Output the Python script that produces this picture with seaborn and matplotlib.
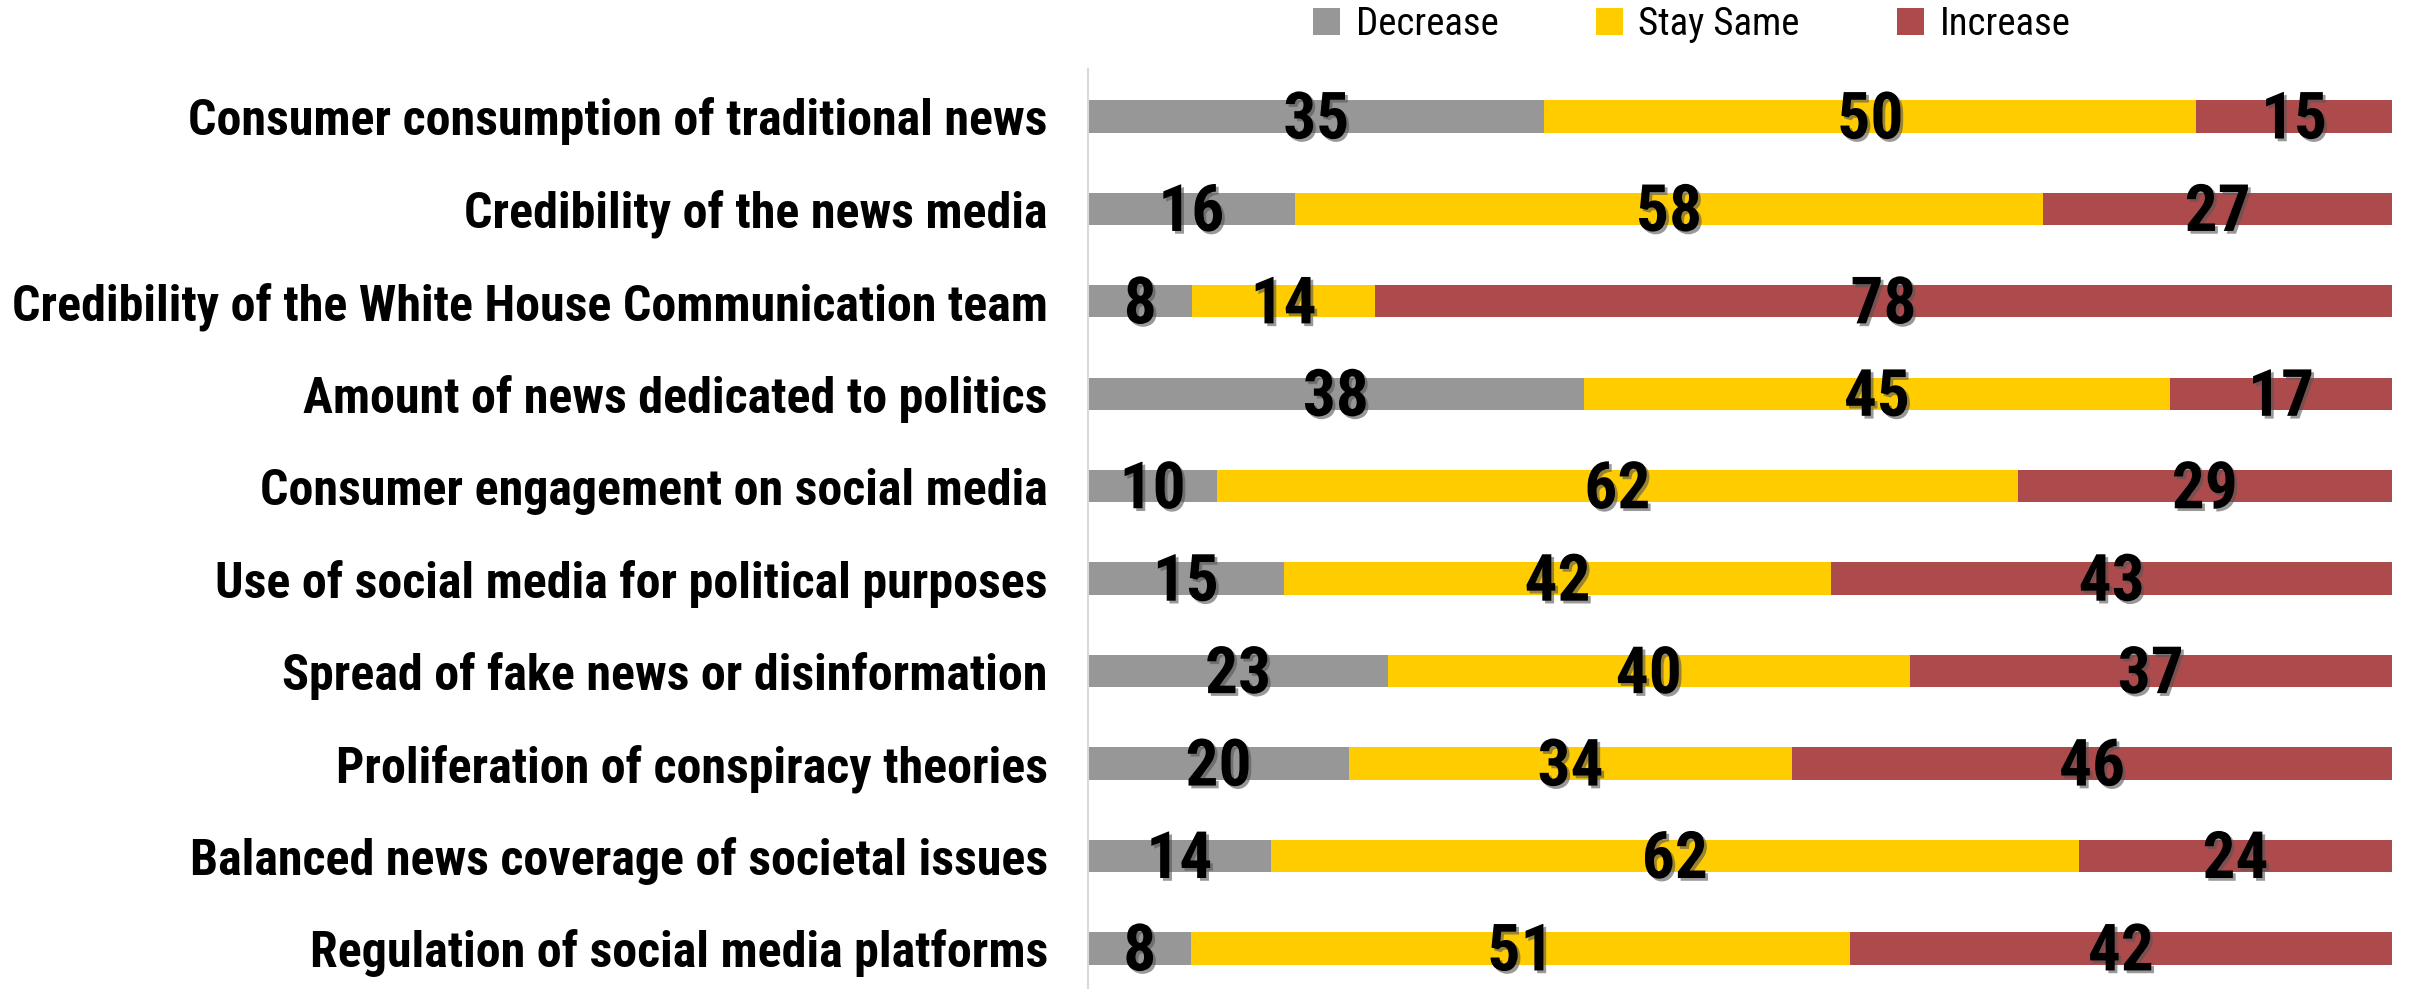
import numpy as np
import pandas as pd
import matplotlib
matplotlib.use("Agg")
import matplotlib.pyplot as plt
import matplotlib.patheffects as pe
from matplotlib.patches import Patch
from matplotlib import font_manager as fm
import seaborn as sns

categories = [
    "Consumer consumption of traditional news",
    "Credibility of the news media",
    "Credibility of the White House Communication team",
    "Amount of news dedicated to politics",
    "Consumer engagement on social media",
    "Use of social media for political purposes",
    "Spread of fake news or disinformation",
    "Proliferation of conspiracy theories",
    "Balanced news coverage of societal issues",
    "Regulation of social media platforms",
]
decrease = [35, 16, 8, 38, 10, 15, 23, 20, 14, 8]
stay_same = [50, 58, 14, 45, 62, 42, 40, 34, 62, 51]
increase = [15, 27, 78, 17, 29, 43, 37, 46, 24, 42]

series_names = ["Decrease", "Stay Same", "Increase"]
colors = ["#979797", "#FFCC00", "#AD4A4C"]


def narrow_font(bold):
    """Pick an installed condensed/narrow face, falling back to DejaVu Sans."""
    cands = []
    for f in fm.fontManager.ttflist:
        stretch = f.stretch if isinstance(f.stretch, str) else str(f.stretch)
        narrow = ("condensed" in stretch.lower() or "Condensed" in f.name
                  or "Narrow" in f.name or "condensed" in f.fname.lower()
                  or "narrow" in f.fname.lower())
        if not narrow or "semicondensed" in f.fname.lower().replace("-", ""):
            continue
        if "italic" in f.fname.lower() or f.style != "normal":
            continue
        w = f.weight if isinstance(f.weight, int) else fm.weight_dict.get(f.weight, 400)
        target = 700 if bold else 400
        pref = 0
        for k, fam in enumerate(["Liberation Sans Narrow", "Noto Sans", "Roboto",
                                 "Open Sans", "DejaVu Sans"]):
            if fam.lower() in f.name.lower():
                pref = k
                break
        else:
            pref = 9
        cands.append((abs(w - target), pref, f.fname))
    if cands:
        cands.sort()
        return fm.FontProperties(fname=cands[0][2])
    return fm.FontProperties(family="DejaVu Sans", weight="bold" if bold else "normal")


label_fp = narrow_font(True)
label_fp.set_size(36)
value_fp = label_fp.copy()
value_fp.set_size(47)
legend_fp = narrow_font(False)
legend_fp.set_size(28)

sns.set_theme(style="white")
plt.rcParams["font.family"] = ["DejaVu Sans"]

df = pd.DataFrame({"category": categories, "Decrease": decrease,
                   "Stay Same": stay_same, "Increase": increase})
total = df[series_names].sum(axis=1)
share = df[series_names].div(total, axis=0) * 100
cum = share.cumsum(axis=1)

fig = plt.figure(figsize=(24.10, 9.89), dpi=100)
ax = fig.add_axes([0.4515, 0.0, 0.541, 0.930])

# stacked bars drawn as overlapping cumulative totals, widest first
for name, color in zip(reversed(series_names), reversed(colors)):
    sns.barplot(x=cum[name], y=df["category"], orient="h", color=color,
                width=0.35, saturation=1, ax=ax, linewidth=0)

ax.set_xlim(0, 100)
ax.set_ylim(9.44, -0.51)
ax.set_xlabel("")
ax.set_ylabel("")
ax.set_xticks([])
ax.tick_params(axis="y", length=0, pad=29)
for lab in ax.get_yticklabels():
    lab.set_fontproperties(label_fp)
    lab.set_color("black")

for side in ["top", "right", "bottom"]:
    ax.spines[side].set_visible(False)
ax.spines["left"].set_color("#d9d9d9")
ax.spines["left"].set_linewidth(1.5)

shadow = [pe.withSimplePatchShadow(offset=(2, -2), shadow_rgbFace="#555555", alpha=0.6)]
for i in range(len(categories)):
    left = 0.0
    for name in series_names:
        w = share.loc[i, name]
        ax.text(left + w / 2, i + 0.05, str(df.loc[i, name]), ha="center", va="center",
                fontproperties=value_fp, color="black", path_effects=shadow)
        left += w

handles = [Patch(facecolor=c, edgecolor="none") for c in colors]
leg = fig.legend(handles, series_names, loc="center", bbox_to_anchor=(0.702, 0.975),
                 ncol=3, frameon=False, prop=legend_fp, handlelength=0.7,
                 handleheight=0.7, handletextpad=0.4, columnspacing=2.5)
for t in leg.get_texts():
    t.set_color("black")

fig.savefig("out.png", dpi=100)
